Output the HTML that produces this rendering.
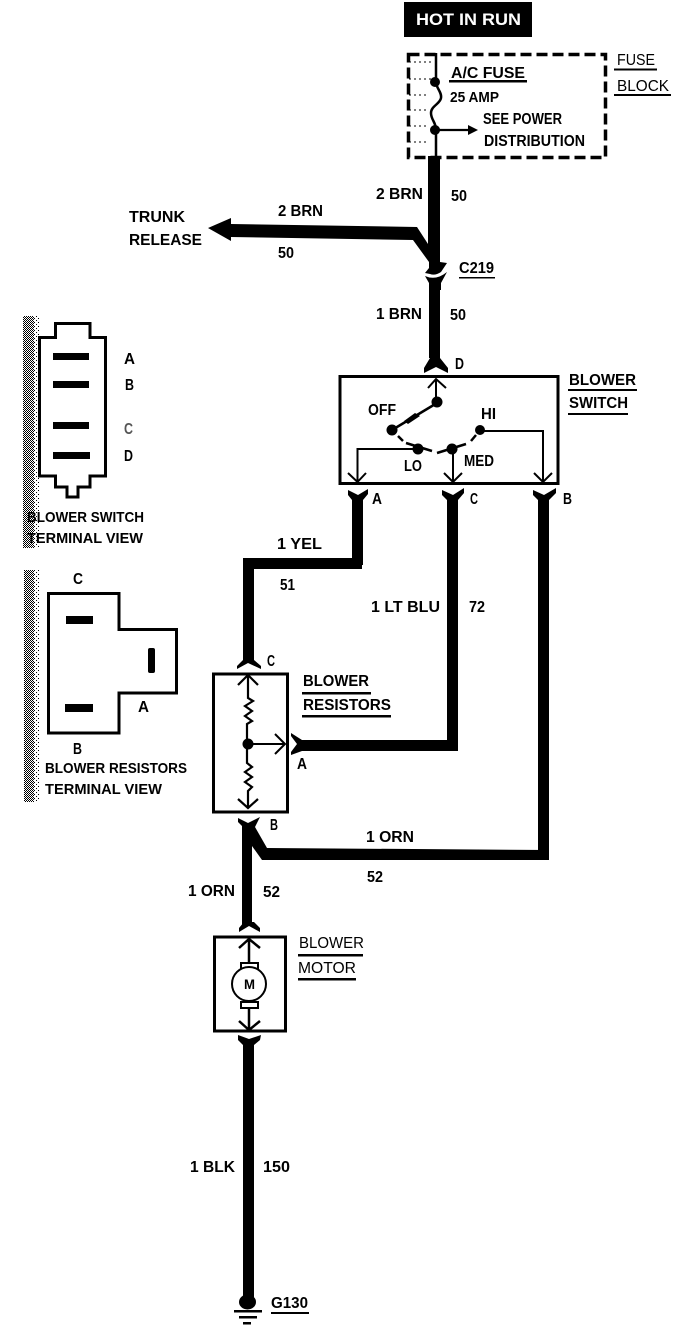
<!DOCTYPE html>
<html>
<head>
<meta charset="utf-8">
<style>
html,body{margin:0;padding:0;background:#fff}
svg{display:block}
text{font-family:"Liberation Sans",sans-serif;font-weight:bold;fill:#000;font-size:16px}
</style>
</head>
<body>
<svg width="688" height="1326" viewBox="0 0 688 1326" xmlns="http://www.w3.org/2000/svg">
<defs>
<pattern id="d1" width="2" height="2" patternUnits="userSpaceOnUse"><rect width="2" height="2" fill="#fff"/><rect width="1" height="1" fill="#000"/><rect x="1" y="1" width="1" height="1" fill="#000"/></pattern>
<pattern id="d2" width="4" height="4" patternUnits="userSpaceOnUse"><rect width="4" height="4" fill="#fff"/><rect width="1" height="1" fill="#000"/><rect x="2" y="2" width="1" height="1" fill="#000"/></pattern>
</defs>
<rect width="688" height="1326" fill="#fff"/>

<!-- header -->
<rect x="404" y="2" width="128" height="35" fill="#000"/>
<text x="416" y="25" textLength="105" lengthAdjust="spacingAndGlyphs" style="fill:#fff;font-size:17px">HOT IN RUN</text>

<!-- fuse block -->
<rect x="408.500" y="54.500" width="197" height="103" fill="none" stroke="#000" stroke-width="3.500" stroke-dasharray="11 5"/>
<path d="M409 62h22M409 79h22M409 95h20M409 110h20M409 126h20M409 142h20" stroke="#000" stroke-width="1" stroke-dasharray="2 3" fill="none"/>
<path d="M436 53V82C436 88 442 92 441 98C440 104 431 106 431 113C431 120 436 122 436 130V158" fill="none" stroke="#000" stroke-width="2.500"/>
<circle cx="435" cy="82" r="5"/><circle cx="435" cy="130" r="5"/>
<path d="M436 130H470" stroke="#000" stroke-width="2.200"/><path d="M468 125L478 130L468 135Z"/>
<text x="451" y="78" textLength="74" lengthAdjust="spacingAndGlyphs">A/C FUSE</text>
<rect x="449" y="80" width="78" height="2.500"/>
<text x="450" y="102" textLength="49" lengthAdjust="spacingAndGlyphs" style="font-size:15px">25 AMP</text>
<text x="483" y="124" textLength="79" lengthAdjust="spacingAndGlyphs">SEE POWER</text>
<text x="484" y="146" textLength="101" lengthAdjust="spacingAndGlyphs">DISTRIBUTION</text>
<text x="617" y="65" textLength="38" lengthAdjust="spacingAndGlyphs" style="font-weight:normal">FUSE</text>
<rect x="614" y="68.500" width="43" height="2"/>
<text x="617" y="91" textLength="52" lengthAdjust="spacingAndGlyphs" style="font-weight:normal">BLOCK</text>
<rect x="614" y="94" width="57" height="2"/>

<!-- top wire + trunk -->
<path d="M428 156H440V262L447 263L441 272Q435 276 430 274L425 273L429 268V262L413 240L231 237V241L208 228L231 218V224L417 227L428 244Z"/>
<path d="M425 276Q436 281 447 272L441 283V290H429V283Z"/>
<rect x="429" y="284" width="11" height="74"/>
<text x="376" y="199" textLength="47" lengthAdjust="spacingAndGlyphs">2 BRN</text>
<text x="451" y="201" textLength="16" lengthAdjust="spacingAndGlyphs">50</text>
<text x="459" y="273" textLength="35" lengthAdjust="spacingAndGlyphs">C219</text>
<rect x="459" y="277" width="36" height="1.500"/>
<text x="129" y="222" textLength="56" lengthAdjust="spacingAndGlyphs">TRUNK</text>
<text x="129" y="245" textLength="73" lengthAdjust="spacingAndGlyphs">RELEASE</text>
<text x="278" y="216" textLength="45" lengthAdjust="spacingAndGlyphs">2 BRN</text>
<text x="278" y="258" textLength="16" lengthAdjust="spacingAndGlyphs">50</text>
<text x="376" y="319" textLength="46" lengthAdjust="spacingAndGlyphs">1 BRN</text>
<text x="450" y="320" textLength="16" lengthAdjust="spacingAndGlyphs">50</text>

<!-- connector D -->
<path d="M430 350H440V358L448 368V373L436 367L424 373V368L430 358Z"/>
<text x="455" y="369" textLength="9" lengthAdjust="spacingAndGlyphs">D</text>

<!-- blower switch -->
<rect x="340" y="376.500" width="218" height="107" fill="none" stroke="#000" stroke-width="3"/>
<path d="M428 388L436 379L446 388M436 379V402" fill="none" stroke="#000" stroke-width="2"/>
<circle cx="437" cy="402" r="5.500"/>
<path d="M437 403L392 430" stroke="#000" stroke-width="2.500"/>
<path d="M404 421L415 413L420 416L408 424Z"/>
<circle cx="392" cy="430" r="5.500"/>
<path d="M398 436L403 441M406 443L432 451" stroke="#000" stroke-width="2.500"/>
<circle cx="418" cy="449" r="5.500"/>
<path d="M418 449H357.500V481M348 473L357.500 482L366 473" fill="none" stroke="#000" stroke-width="2"/>
<path d="M437 453L466 444M471 441L476 435" stroke="#000" stroke-width="2.500"/>
<circle cx="452" cy="449" r="5.500"/>
<path d="M453 449V481M444 473L453 482L462 473" fill="none" stroke="#000" stroke-width="2"/>
<circle cx="480" cy="430" r="5"/>
<path d="M480 431H543V481M534 473L543 482L552 473" fill="none" stroke="#000" stroke-width="2"/>
<text x="368" y="415" textLength="28" lengthAdjust="spacingAndGlyphs">OFF</text>
<text x="481" y="419" textLength="15" lengthAdjust="spacingAndGlyphs">HI</text>
<text x="404" y="471" textLength="18" lengthAdjust="spacingAndGlyphs">LO</text>
<text x="464" y="466" textLength="30" lengthAdjust="spacingAndGlyphs">MED</text>
<text x="569" y="385" textLength="67" lengthAdjust="spacingAndGlyphs">BLOWER</text>
<rect x="568" y="389" width="69" height="2"/>
<text x="569" y="408" textLength="59" lengthAdjust="spacingAndGlyphs">SWITCH</text>
<rect x="568" y="413" width="60" height="2"/>

<!-- lower connectors -->
<path d="M348 490L358 495L368 489V494L363 500V565H352V500L348 495Z"/>
<path d="M442 490L453 495L464 488V493L458 500V751H447V500L442 495Z"/>
<path d="M533 490L544 495L556 488V493L549 500V860H538V500L533 495Z"/>
<text x="372" y="504" textLength="10" lengthAdjust="spacingAndGlyphs">A</text>
<text x="470" y="504" textLength="8" lengthAdjust="spacingAndGlyphs">C</text>
<text x="563" y="504" textLength="9" lengthAdjust="spacingAndGlyphs">B</text>

<!-- wire A -->
<rect x="243" y="558" width="119" height="11"/>
<rect x="243" y="558" width="11" height="102"/>
<text x="277" y="549" textLength="45" lengthAdjust="spacingAndGlyphs">1 YEL</text>
<text x="280" y="590" textLength="15" lengthAdjust="spacingAndGlyphs">51</text>
<text x="371" y="612" textLength="69" lengthAdjust="spacingAndGlyphs">1 LT BLU</text>
<text x="469" y="612" textLength="16" lengthAdjust="spacingAndGlyphs">72</text>

<!-- resistor box -->
<rect x="213.500" y="674" width="74" height="138" fill="none" stroke="#000" stroke-width="3"/>
<path d="M243 655H254V660L261 666V669L248 663L237 669V666L243 660Z"/>
<text x="267" y="666" textLength="8" lengthAdjust="spacingAndGlyphs">C</text>
<path d="M238 685L248 675L258 685M248 675V698L253 701L245 706L252 711L245 716L252 721L247 724V763L252 767L245 772L252 777L245 782L252 787L248 791V808M238 799L248 808L258 799" fill="none" stroke="#000" stroke-width="2.200"/>
<circle cx="248" cy="744" r="5.500"/>
<path d="M248 744H285M275 734L285 744L275 754" fill="none" stroke="#000" stroke-width="2"/>
<path d="M291 733L302 740H458V751H302L291 755V752L297 744L291 736Z"/>
<text x="303" y="686" textLength="66" lengthAdjust="spacingAndGlyphs">BLOWER</text>
<rect x="302" y="692" width="69" height="2.500"/>
<text x="303" y="710" textLength="88" lengthAdjust="spacingAndGlyphs">RESISTORS</text>
<rect x="302" y="715" width="89" height="2.500"/>
<text x="297" y="769" textLength="10" lengthAdjust="spacingAndGlyphs">A</text>

<!-- wire B -->
<path d="M238 818L248 823L260 817L255 827L267 848L549 850V860L262 860L252 846V925H242V826L238 822Z"/>
<text x="270" y="830" textLength="8" lengthAdjust="spacingAndGlyphs">B</text>
<text x="366" y="842" textLength="48" lengthAdjust="spacingAndGlyphs">1 ORN</text>
<text x="367" y="882" textLength="16" lengthAdjust="spacingAndGlyphs">52</text>
<text x="188" y="896" textLength="47" lengthAdjust="spacingAndGlyphs">1 ORN</text>
<text x="263" y="897" textLength="17" lengthAdjust="spacingAndGlyphs">52</text>
<path d="M239 932V928L244 922H254L260 928V932L249 926Z"/>

<!-- motor -->
<rect x="214.500" y="937" width="71" height="94" fill="none" stroke="#000" stroke-width="3"/>
<path d="M239 948L249 939L260 948M249 939V962M249 1008V1030M239 1021L249 1030L260 1021" fill="none" stroke="#000" stroke-width="2.500"/>
<rect x="241" y="963" width="17" height="6" fill="#fff" stroke="#000" stroke-width="2"/>
<rect x="241" y="1002" width="17" height="6" fill="#fff" stroke="#000" stroke-width="2"/>
<circle cx="249" cy="984" r="17" fill="#fff" stroke="#000" stroke-width="2"/>
<text x="244" y="989" textLength="11" lengthAdjust="spacingAndGlyphs" style="font-size:14px">M</text>
<text x="299" y="948" textLength="65" lengthAdjust="spacingAndGlyphs" style="font-weight:normal">BLOWER</text>
<rect x="298" y="954" width="65" height="2.500"/>
<text x="298" y="973" textLength="58" lengthAdjust="spacingAndGlyphs" style="font-weight:normal">MOTOR</text>
<rect x="298" y="978" width="58" height="2.500"/>

<!-- lower motor wire + ground -->
<path d="M238 1035L249 1039L261 1035L260 1040L254 1045V1300H243V1045L238 1040Z"/>
<ellipse cx="247.500" cy="1302" rx="8.500" ry="7.500"/>
<rect x="234" y="1310" width="28" height="2.500"/>
<rect x="239" y="1316" width="18" height="2.500"/>
<rect x="243" y="1322" width="8" height="2.500"/>
<text x="271" y="1308" textLength="37" lengthAdjust="spacingAndGlyphs">G130</text>
<rect x="271" y="1312" width="38" height="2"/>
<text x="190" y="1172" textLength="45" lengthAdjust="spacingAndGlyphs">1 BLK</text>
<text x="263" y="1172" textLength="27" lengthAdjust="spacingAndGlyphs">150</text>

<!-- left hatch bars -->
<rect x="23" y="316" width="11" height="232" fill="url(#d1)"/>
<rect x="34" y="316" width="5" height="232" fill="url(#d2)"/>
<rect x="24" y="570" width="10" height="232" fill="url(#d1)"/>
<rect x="34" y="570" width="6" height="232" fill="url(#d2)"/>

<!-- switch terminal view -->
<path d="M39.500 337.500H55.500V323.500H90V337.500H105.500V476H90V487H78V497H67V487H55.500V476H39.500Z" fill="#fff" stroke="#000" stroke-width="3"/>
<rect x="53" y="353" width="36" height="7"/>
<rect x="53" y="381" width="36" height="7"/>
<rect x="53" y="422" width="36" height="7"/>
<rect x="53" y="452" width="37" height="7"/>
<text x="124" y="364" textLength="11" lengthAdjust="spacingAndGlyphs">A</text>
<text x="125" y="390" textLength="9" lengthAdjust="spacingAndGlyphs">B</text>
<text x="124" y="434" textLength="9" lengthAdjust="spacingAndGlyphs" style="fill:#555">C</text>
<text x="124" y="461" textLength="9" lengthAdjust="spacingAndGlyphs">D</text>
<text x="27" y="522" textLength="117" lengthAdjust="spacingAndGlyphs" style="font-size:15px">BLOWER SWITCH</text>
<text x="27" y="543" textLength="116" lengthAdjust="spacingAndGlyphs" style="font-size:15px">TERMINAL VIEW</text>

<!-- resistor terminal view -->
<path d="M48.500 593.500H119V629.500H176.500V693H119V733H48.500Z" fill="#fff" stroke="#000" stroke-width="3"/>
<rect x="66" y="616" width="27" height="8"/>
<rect x="65" y="704" width="28" height="8"/>
<rect x="148" y="648" width="7" height="25" rx="2"/>
<text x="73" y="584" textLength="10" lengthAdjust="spacingAndGlyphs">C</text>
<text x="138" y="712" textLength="11" lengthAdjust="spacingAndGlyphs">A</text>
<text x="73" y="754" textLength="9" lengthAdjust="spacingAndGlyphs">B</text>
<text x="45" y="773" textLength="142" lengthAdjust="spacingAndGlyphs" style="font-size:15px">BLOWER RESISTORS</text>
<text x="45" y="794" textLength="117" lengthAdjust="spacingAndGlyphs" style="font-size:15px">TERMINAL VIEW</text>
</svg>
</body>
</html>
